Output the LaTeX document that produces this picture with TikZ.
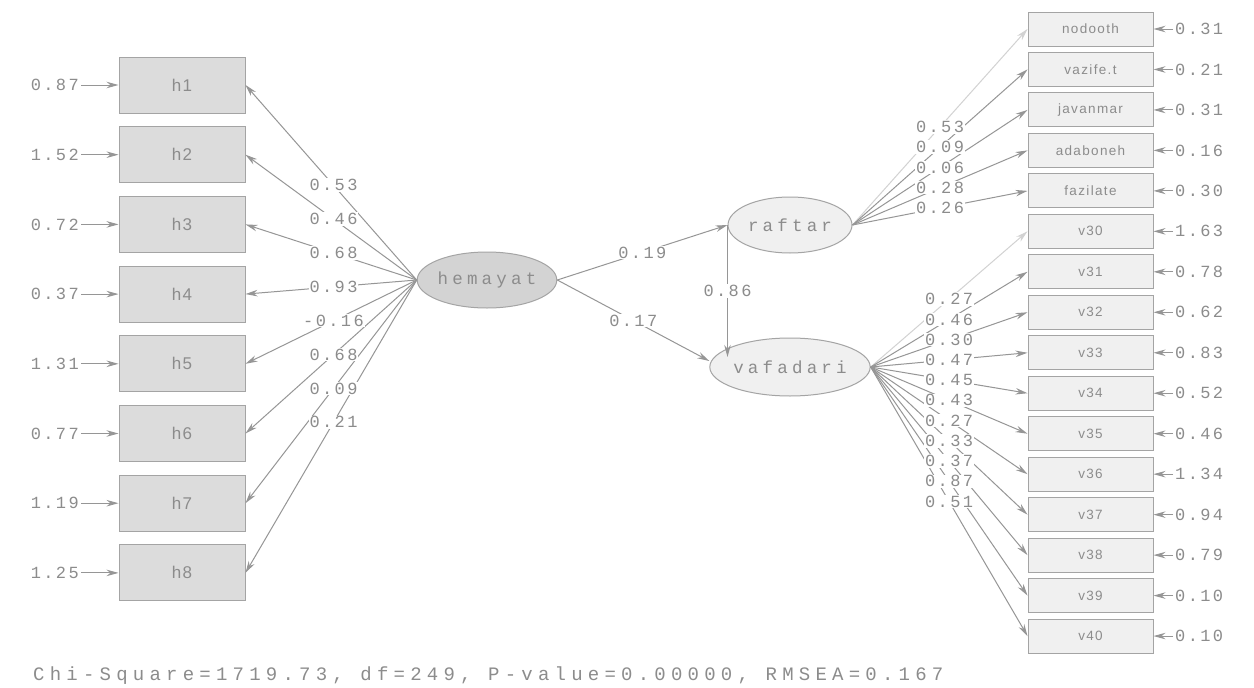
\documentclass[tikz,border=0pt]{standalone}
\usepackage{fontspec}
\usetikzlibrary{arrows.meta,shapes.geometric}
\newfontfamily\numfont[LetterSpace=14]{Liberation Mono}
\newfontfamily\latfont[LetterSpace=24]{Liberation Mono}
\newfontfamily\fitfont[LetterSpace=27.5]{Liberation Mono}
\newfontfamily\lboxfont[LetterSpace=8]{Liberation Sans}
\newfontfamily\rboxfont[LetterSpace=10]{Liberation Sans}
\definecolor{ink}{HTML}{8C8C8C}
\definecolor{wire}{HTML}{969696}
\definecolor{fixedwire}{HTML}{D2D2D2}
\definecolor{boxline}{HTML}{A4A4A4}
\definecolor{darkfill}{HTML}{DCDCDC}
\definecolor{lightfill}{HTML}{F0F0F0}
\definecolor{latfill}{HTML}{D3D3D3}
\tikzset{
  obsL/.style={draw=boxline, fill=darkfill, line width=1pt, minimum width=126pt,
    minimum height=56pt, inner sep=0pt, text=ink, font=\lboxfont\fontsize{17}{17}\selectfont},
  obsR/.style={draw=boxline, fill=lightfill, line width=1pt, minimum width=125pt,
    minimum height=34pt, inner sep=0pt, text=ink, font=\rboxfont\fontsize{13.5}{13.5}\selectfont},
  latent/.style={ellipse, draw=boxline, line width=1pt, minimum width=124pt,
    minimum height=56pt, inner sep=0pt, text=ink, font=\latfont\fontsize{17.5}{17.5}\selectfont},
  pathline/.style={draw=wire, line width=1pt, -{Stealth[length=12pt,width=6.5pt]}},
  fixedline/.style={pathline, draw=fixedwire},
  coef/.style={fill=white, inner sep=1pt, text=ink, font=\numfont\fontsize{17}{17}\selectfont},
  errnum/.style={inner sep=2pt, text=ink, font=\numfont\fontsize{17}{17}\selectfont},
}
\begin{document}
\begin{tikzpicture}[x=1pt,y=-1pt]
\useasboundingbox[fill=white] (0,0) rectangle (1254,688);

% latent variables
\node[latent, fill=latfill, minimum width=134pt] (hem) at (487,280) {hemayat};
\node[latent, fill=lightfill] (raf) at (790,225) {raftar};
\node[latent, fill=lightfill, minimum height=58pt] (vaf) at (790,367) {vafadari};

% observed indicators of hemayat
\foreach \i/\err in {1/0.87,2/1.52,3/0.72,4/0.37,5/1.31,6/0.77,7/1.19,8/1.25}{
  \node[obsL] (h\i) at (182,{85+69.7*(\i-1)}) {h\i};
  \node[errnum, anchor=east] (eh\i) at (81,{85+69.7*(\i-1)}) {\err};
  \draw[pathline] (eh\i.east) -- (h\i.west);
}

% observed indicators of raftar and vafadari
\foreach \i/\lab/\err in {0/nodooth/0.31,1/vazife.t/0.21,2/javanmar/0.31,3/adaboneh/0.16,
    4/fazilate/0.30,5/v30/1.63,6/v31/0.78,7/v32/0.62,8/v33/0.83,9/v34/0.52,10/v35/0.46,
    11/v36/1.34,12/v37/0.94,13/v38/0.79,14/v39/0.10,15/v40/0.10}{
  \node[obsR] (r\i) at (1090.5,{29+40.47*\i}) {\lab};
  \node[errnum, anchor=west] (er\i) at (1173,{29+40.47*\i}) {\err};
  \draw[pathline] (er\i.west) -- (r\i.east);
}

% loadings of hemayat
\foreach \i in {1,...,8}{
  \draw[pathline] (hem.west) -- (h\i.east);
}
\foreach \i/\v in {1/0.53,2/0.46,3/0.68,4/0.93,5/-0.16,6/0.68,7/0.09,8/0.21}{
  \path (hem.west) -- (h\i.east) node[coef, pos=0.486] {\v};
}

% loadings of raftar
\draw[fixedline] (raf.east) -- (r0.west);
\foreach \i in {1,...,4}{
  \draw[pathline] (raf.east) -- (r\i.west);
}
\foreach \i/\v in {0/0.53,1/0.09,2/0.06,3/0.28,4/0.26}{
  \path (raf.east) -- (r\i.west) node[coef, pos=0.5] {\v};
}

% loadings of vafadari
\draw[fixedline] (vaf.east) -- (r5.west);
\foreach \i in {6,...,15}{
  \draw[pathline] (vaf.east) -- (r\i.west);
}
\foreach \i/\v in {5/0.27,6/0.46,7/0.30,8/0.47,9/0.45,10/0.43,11/0.27,12/0.33,13/0.37,14/0.87,15/0.51}{
  \path (vaf.east) -- (r\i.west) node[coef, pos=0.5] {\v};
}

% structural paths
\draw[pathline] (hem.east) -- node[coef] {0.19} (raf.west);
\draw[pathline] (hem.east) -- node[coef] {0.17} ([yshift=6pt]vaf.west);
\coordinate (vin) at ([yshift=10pt]vaf.west);
\draw[pathline] (raf.west) -- node[coef] {0.86} (raf.west |- vin);

% fit statistics
\node[anchor=west, inner sep=0pt, text=ink, font=\fitfont\fontsize{19}{19}\selectfont] (fit) at (33,676)
  {Chi-Square=1719.73, df=249, P-value=0.00000, RMSEA=0.167};
\end{tikzpicture}
\end{document}
